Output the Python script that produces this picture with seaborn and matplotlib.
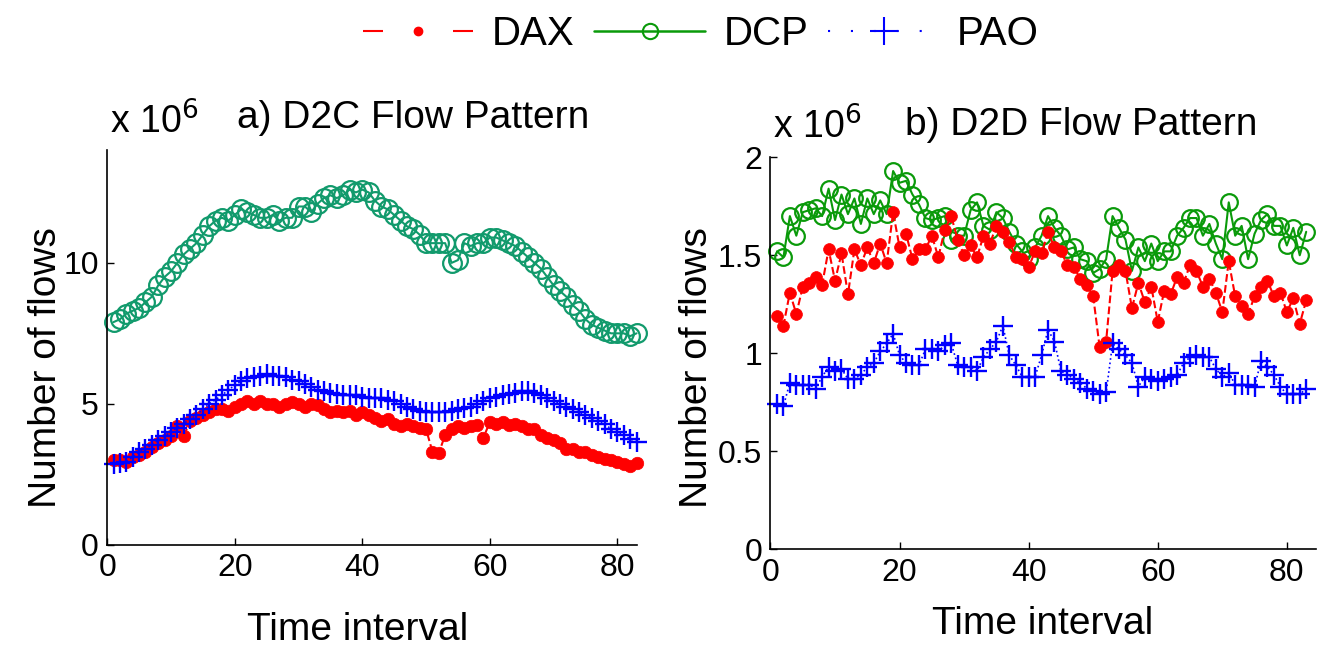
import numpy as np
import pandas as pd
import matplotlib
matplotlib.use("Agg")
import matplotlib.pyplot as plt
from matplotlib.lines import Line2D
import seaborn as sns

# values in units of 10^6 flows, time intervals 1..83
intervals = list(range(1, 84))

d2c_dcp = [7.9, 8.0, 8.2, 8.3, 8.4, 8.6, 8.8, 9.2, 9.5, 9.7, 10.0, 10.3, 10.5, 10.7, 11.0,
           11.3, 11.5, 11.6, 11.5, 11.7, 11.9, 11.8, 11.7, 11.6, 11.6, 11.7, 11.5, 11.6, 11.6,
           12.0, 12.0, 11.8, 12.1, 12.3, 12.4, 12.3, 12.4, 12.6, 12.5, 12.6, 12.5, 12.2, 12.0,
           11.9, 11.7, 11.5, 11.3, 11.2, 11.0, 10.7, 10.7, 10.7, 10.7, 10.0, 10.1, 10.7, 10.6,
           10.7, 10.7, 10.9, 10.9, 10.8, 10.7, 10.6, 10.4, 10.2, 10.0, 9.8, 9.5, 9.2, 9.0, 8.8,
           8.5, 8.3, 8.0, 7.8, 7.7, 7.6, 7.5, 7.5, 7.5, 7.4, 7.5]
d2c_dax = [3.0, 3.0, 2.95, 3.1, 3.2, 3.3, 3.45, 3.6, 3.7, 3.85, 4.2, 3.85, 4.4, 4.5, 4.6,
           4.7, 4.8, 4.8, 4.75, 4.9, 5.0, 5.1, 5.0, 5.1, 5.0, 5.0, 4.9, 5.0, 5.05, 5.0, 4.9,
           5.0, 4.95, 4.8, 4.7, 4.75, 4.7, 4.75, 4.6, 4.7, 4.6, 4.5, 4.4, 4.45, 4.3, 4.2, 4.3,
           4.2, 4.15, 4.1, 3.3, 3.25, 3.9, 4.1, 4.2, 4.15, 4.2, 4.25, 3.8, 4.35, 4.3, 4.35,
           4.25, 4.3, 4.2, 4.1, 4.1, 3.9, 3.8, 3.7, 3.6, 3.4, 3.4, 3.3, 3.3, 3.2, 3.1, 3.05,
           3.0, 2.95, 2.85, 2.8, 2.9]
d2c_pao = [2.85, 2.9, 2.95, 3.1, 3.3, 3.4, 3.55, 3.7, 3.85, 4.0, 4.15, 4.3, 4.45, 4.6, 4.8,
           5.0, 5.15, 5.3, 5.5, 5.65, 5.8, 5.9, 5.95, 6.0, 6.05, 6.0, 6.0, 5.95, 5.85, 5.8, 5.7,
           5.6, 5.5, 5.45, 5.4, 5.35, 5.3, 5.3, 5.3, 5.25, 5.2, 5.2, 5.2, 5.15, 5.1, 5.0, 4.9,
           4.8, 4.75, 4.7, 4.7, 4.7, 4.7, 4.75, 4.8, 4.85, 4.9, 5.0, 5.1, 5.2, 5.25, 5.3, 5.35,
           5.4, 5.45, 5.45, 5.4, 5.3, 5.2, 5.1, 5.0, 4.9, 4.8, 4.7, 4.6, 4.5, 4.4, 4.3, 4.1,
           4.0, 3.9, 3.75, 3.65]

d2d_dcp = [1.52, 1.49, 1.70, 1.60, 1.72, 1.73, 1.74, 1.70, 1.84, 1.68, 1.81, 1.71, 1.79, 1.66,
           1.79, 1.71, 1.78, 1.71, 1.93, 1.87, 1.88, 1.81, 1.76, 1.69, 1.68, 1.69, 1.70, 1.58,
           1.60, 1.60, 1.73, 1.77, 1.65, 1.63, 1.72, 1.69, 1.62, 1.56, 1.52, 1.48, 1.54, 1.60,
           1.70, 1.64, 1.60, 1.53, 1.54, 1.48, 1.47, 1.41, 1.43, 1.48, 1.70, 1.64, 1.58, 1.42,
           1.54, 1.47, 1.56, 1.47, 1.52, 1.52, 1.60, 1.64, 1.69, 1.69, 1.60, 1.66, 1.56, 1.48,
           1.77, 1.60, 1.65, 1.48, 1.61, 1.68, 1.71, 1.65, 1.65, 1.55, 1.64, 1.50, 1.62]
d2d_dax = [1.19, 1.14, 1.31, 1.20, 1.34, 1.36, 1.39, 1.35, 1.53, 1.37, 1.51, 1.30, 1.53, 1.45,
           1.54, 1.46, 1.56, 1.46, 1.72, 1.54, 1.61, 1.48, 1.53, 1.53, 1.60, 1.49, 1.63, 1.70,
           1.58, 1.50, 1.55, 1.49, 1.60, 1.56, 1.65, 1.62, 1.57, 1.49, 1.48, 1.44, 1.52, 1.51,
           1.62, 1.54, 1.52, 1.45, 1.44, 1.38, 1.35, 1.29, 1.03, 1.06, 1.42, 1.45, 1.42, 1.23,
           1.36, 1.26, 1.34, 1.16, 1.32, 1.30, 1.39, 1.36, 1.45, 1.42, 1.34, 1.38, 1.31, 1.21,
           1.47, 1.29, 1.24, 1.20, 1.29, 1.34, 1.37, 1.29, 1.31, 1.21, 1.28, 1.15, 1.27]
d2d_pao = [0.74, 0.73, 0.85, 0.84, 0.84, 0.84, 0.82, 0.88, 0.93, 0.91, 0.92, 0.87, 0.87, 0.89,
           0.93, 0.95, 1.01, 1.05, 1.10, 0.99, 0.95, 0.94, 0.94, 1.02, 1.02, 1.01, 1.04, 1.05,
           0.94, 0.93, 0.93, 0.91, 0.98, 1.02, 1.06, 1.14, 0.99, 0.94, 0.88, 0.88, 0.88, 0.99,
           1.12, 1.06, 0.91, 0.89, 0.87, 0.85, 0.82, 0.81, 0.79, 0.80, 1.05, 1.02, 0.99, 0.95,
           0.83, 0.88, 0.87, 0.86, 0.87, 0.88, 0.89, 0.95, 0.98, 0.99, 0.98, 0.98, 0.92, 0.88,
           0.90, 0.84, 0.84, 0.84, 0.83, 0.96, 0.93, 0.89, 0.83, 0.79, 0.79, 0.79, 0.82]

sns.set_theme(style="white")
plt.rcParams['font.family'] = ['Liberation Sans', 'DejaVu Sans']
plt.rcParams['text.color'] = 'black'
plt.rcParams['axes.labelcolor'] = 'black'

RED, BLUE = '#ff0000', '#0000ff'
TEAL, GREEN = '#119a6c', '#0a9a0a'

fig = plt.figure(figsize=(13.4, 6.5), dpi=100)
ax1 = fig.add_axes([0.080, 0.162, 0.395, 0.607])
ax2 = fig.add_axes([0.575, 0.155, 0.407, 0.603])

left = pd.DataFrame({'t': intervals, 'DAX': d2c_dax, 'DCP': d2c_dcp, 'PAO': d2c_pao})
right = pd.DataFrame({'t': intervals, 'DAX': d2d_dax, 'DCP': d2d_dcp, 'PAO': d2d_pao})

def draw(ax, df, green, dot_ms, circ_ms):
    sns.lineplot(data=df, x='t', y='DCP', ax=ax, color=green, linestyle='-', lw=1.5,
                 marker='o', markersize=circ_ms, markerfacecolor='none',
                 markeredgecolor=green, markeredgewidth=1.6, clip_on=False)
    sns.lineplot(data=df, x='t', y='DAX', ax=ax, color=RED, linestyle='--', lw=1.5,
                 marker='o', markersize=dot_ms, markerfacecolor=RED,
                 markeredgecolor=RED, markeredgewidth=0.5, clip_on=False, dashes=(5, 4))
    sns.lineplot(data=df, x='t', y='PAO', ax=ax, color=BLUE, linestyle=':', lw=1.2,
                 marker='+', markersize=15, markeredgecolor=BLUE, markeredgewidth=1.7,
                 clip_on=False)

draw(ax1, left, TEAL, 9, 13.5)
draw(ax2, right, GREEN, 8.5, 12)

ax1.set_xlim(0, 83)
ax1.set_ylim(0, 14)
ax1.set_yticks([0, 5, 10])
ax2.set_xlim(0, 84.5)
ax2.set_ylim(0, 2)
ax2.set_yticks([0, 0.5, 1, 1.5, 2])
ax2.set_yticklabels(['0', '0.5', '1', '1.5', '2'])

for ax in (ax1, ax2):
    ax.set_xticks([0, 20, 40, 60, 80])
    sns.despine(ax=ax)
    for s in ('left', 'bottom'):
        ax.spines[s].set_color('black')
        ax.spines[s].set_linewidth(1.2)
    ax.tick_params(axis='both', direction='in', length=5, width=1, colors='black',
                   labelsize=23, pad=6, left=True, bottom=True)
    ax.set_xlabel('')
    ax.set_ylabel('')

fig.text(0.267, 0.031, 'Time interval', fontsize=28, ha='center', va='center')
fig.text(0.778, 0.040, 'Time interval', fontsize=28, ha='center', va='center')
fig.text(0.034, 0.434, 'Number of flows', fontsize=28, rotation=90, ha='center', va='center')
fig.text(0.520, 0.434, 'Number of flows', fontsize=28, rotation=90, ha='center', va='center')

fig.text(0.082, 0.812, r'x 10$^{6}$', fontsize=27, va='center')
fig.text(0.308, 0.818, 'a) D2C Flow Pattern', fontsize=28, ha='center', va='center')
fig.text(0.577, 0.805, r'x 10$^{6}$', fontsize=27, va='center')
fig.text(0.807, 0.808, 'b) D2D Flow Pattern', fontsize=28, ha='center', va='center')

handles = [
    Line2D([], [], color=RED, linestyle='--', dashes=(9.6, 33.6), lw=1.5, marker='o',
           markersize=6),
    Line2D([], [], color=GREEN, linestyle='-', lw=1.8, marker='o', markersize=11,
           markerfacecolor='none', markeredgewidth=1.5),
    Line2D([], [], color=BLUE, linestyle=':', dashes=(1, 10), lw=1.5, marker='+',
           markersize=20, markeredgewidth=1.5),
]
fig.legend(handles, ['DAX', 'DCP', 'PAO'], loc='center', bbox_to_anchor=(0.523, 0.948),
           ncol=3, frameon=False, fontsize=29, handlelength=2.75, columnspacing=0.5,
           handletextpad=0.45, borderaxespad=0)

fig.savefig('out.png', dpi=100)
